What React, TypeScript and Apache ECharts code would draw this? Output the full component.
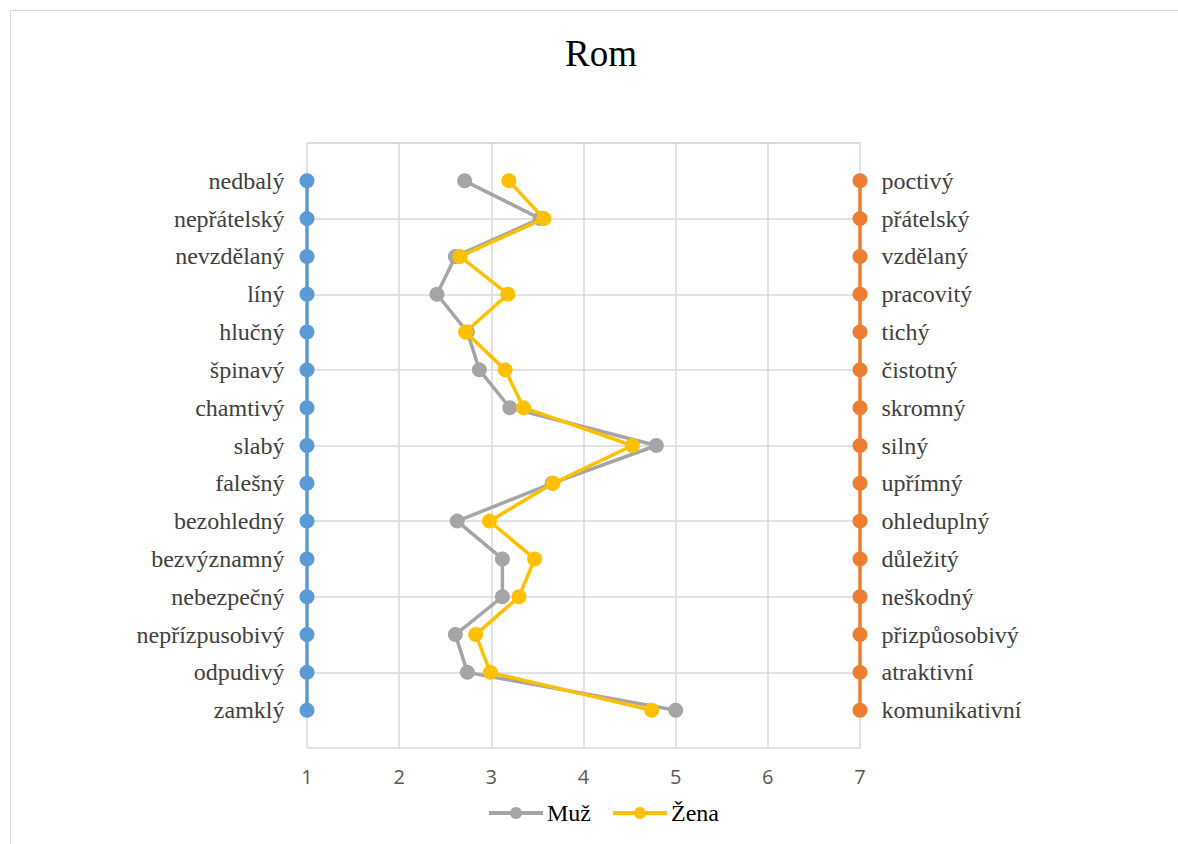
import React, { useEffect, useRef } from "react";
import * as echarts from "echarts";

const leftLabels = ["nedbalý", "nepřátelský", "nevzdělaný", "líný", "hlučný", "špinavý", "chamtivý", "slabý", "falešný", "bezohledný", "bezvýznamný", "nebezpečný", "nepřízpusobivý", "odpudivý", "zamklý"];
const rightLabels = ["poctivý", "přátelský", "vzdělaný", "pracovitý", "tichý", "čistotný", "skromný", "silný", "upřímný", "ohleduplný", "důležitý", "neškodný", "přizpůosobivý", "atraktivní", "komunikativní"];
const muz = [2.71, 3.53, 2.61, 2.41, 2.74, 2.87, 3.2, 4.79, 3.66, 2.63, 3.12, 3.12, 2.61, 2.74, 5.0];
const zena = [3.19, 3.57, 2.66, 3.18, 2.72, 3.15, 3.35, 4.53, 3.67, 2.98, 3.47, 3.3, 2.83, 2.99, 4.74];
const xTicks = [1, 2, 3, 4, 5, 6, 7];

const serif = "'Liberation Serif', 'Times New Roman', serif";

export default function App() {
  const ref = useRef<HTMLDivElement>(null);
  useEffect(() => {
    if (!ref.current) return;
    const chart = echarts.init(ref.current, null, { renderer: "svg" });
    const rowPos = (i: number) => i + 1;
    chart.setOption({
      animation: false,
      backgroundColor: "#ffffff",
      graphic: [
        { type: "rect", shape: { x: 10.5, y: 10.5, width: 1200, height: 900 }, style: { fill: "none", stroke: "#d9d9d9", lineWidth: 1 }, silent: true },
        { type: "text", x: 601, y: 53, style: { text: "Rom", fontFamily: serif, fontSize: 37, fill: "#000000", textAlign: "center", textVerticalAlign: "middle" }, silent: true },
      ],
      legend: {
        data: ["Muž", "Žena"],
        bottom: 14,
        left: 482,
        itemWidth: 54,
        itemHeight: 15,
        itemGap: 20,
        lineStyle: { width: 4 },
        textStyle: { fontFamily: serif, fontSize: 24, color: "#000000", padding: [0, 0, 0, -1] },
      },
      grid: { left: 307, right: 318, top: 143, bottom: 96 },
      xAxis: {
        type: "value",
        min: 1,
        max: 7,
        interval: 1,
        axisLine: { show: true, lineStyle: { color: "#d9d9d9", width: 1.5 } },
        axisTick: { show: false },
        axisLabel: { color: "#595959", fontSize: 20, fontFamily: "'Open Sans', sans-serif", margin: 18, formatter: (v: number) => (xTicks.includes(v) ? String(v) : "") },
        splitLine: { show: true, lineStyle: { color: "#d9d9d9", width: 1.5 } },
      },
      yAxis: {
        type: "value",
        min: 0,
        max: 16,
        interval: 2,
        inverse: true,
        axisLine: { show: false },
        axisTick: { show: false },
        axisLabel: { show: false },
        splitLine: { show: true, lineStyle: { color: "#d9d9d9", width: 1.5 } },
      },
      series: [
        {
          name: "left",
          type: "line",
          data: leftLabels.map((n, i) => ({ value: [1, rowPos(i)], name: n })),
          lineStyle: { color: "#5b9bd5", width: 3.5 },
          itemStyle: { color: "#5b9bd5" },
          symbol: "circle",
          symbolSize: 15,
          label: { show: true, position: "left", distance: 15, formatter: (p: any) => p.name, fontFamily: serif, fontSize: 24, color: "#404040" },
          z: 3,
        },
        {
          name: "right",
          type: "line",
          data: rightLabels.map((n, i) => ({ value: [7, rowPos(i)], name: n })),
          lineStyle: { color: "#ed7d31", width: 3.5 },
          itemStyle: { color: "#ed7d31" },
          symbol: "circle",
          symbolSize: 15,
          label: { show: true, position: "right", distance: 14, formatter: (p: any) => p.name, fontFamily: serif, fontSize: 24, color: "#404040" },
          z: 3,
        },
        {
          name: "Muž",
          type: "line",
          data: muz.map((v, i) => [v, rowPos(i)]),
          lineStyle: { color: "#a5a5a5", width: 3.5 },
          itemStyle: { color: "#a5a5a5" },
          symbol: "circle",
          symbolSize: 15,
          z: 4,
        },
        {
          name: "Žena",
          type: "line",
          data: zena.map((v, i) => [v, rowPos(i)]),
          lineStyle: { color: "#ffc000", width: 3.5 },
          itemStyle: { color: "#ffc000" },
          symbol: "circle",
          symbolSize: 15,
          z: 5,
        },
      ],
    });
    return () => chart.dispose();
  }, []);
  return <div ref={ref} style={{ position: "fixed", left: 0, top: 0, width: 1178, height: 844 }} />;
}
